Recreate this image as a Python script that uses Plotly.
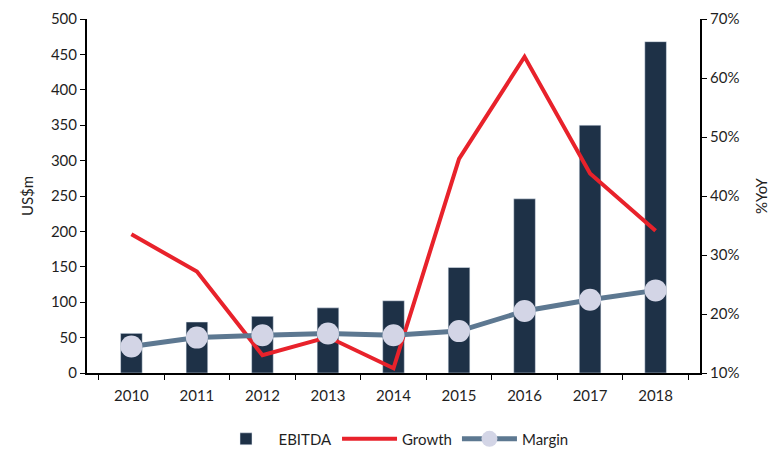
import plotly.graph_objects as go

years = ["2010", "2011", "2012", "2013", "2014", "2015", "2016", "2017", "2018"]
ebitda = [56, 72, 80, 92, 102, 149, 246, 350, 468]
growth = [0.335, 0.272, 0.13, 0.161, 0.108, 0.463, 0.636, 0.438, 0.341]
margin = [0.145, 0.16, 0.164, 0.167, 0.164, 0.171, 0.205, 0.224, 0.24]

left_ticks = list(range(0, 501, 50))
right_ticks = [0.1, 0.2, 0.3, 0.4, 0.5, 0.6, 0.7]

font_family = "Lato, 'Open Sans', sans-serif"
txt = "#1f1f1f"

fig = go.Figure()
fig.add_trace(go.Bar(x=years, y=ebitda, name="EBITDA", marker_color="#1e3147",
                     width=0.33, yaxis="y"))
fig.add_trace(go.Scatter(x=years, y=growth, name="Growth", mode="lines",
                         line=dict(color="#e8222b", width=4), yaxis="y2"))
fig.add_trace(go.Scatter(x=years, y=margin, name="Margin", mode="lines+markers",
                         line=dict(color="#5d7891", width=5),
                         marker=dict(size=22, color="#d3d5e6"), yaxis="y2"))

fig.update_layout(
    width=778, height=461,
    margin=dict(l=87, r=78, t=19, b=88, autoexpand=False),
    paper_bgcolor="white", plot_bgcolor="white",
    font=dict(family=font_family, size=15, color=txt),
    showlegend=True,
    legend=dict(orientation="h", x=0.5, xanchor="center", y=-0.14, yanchor="top",
                font=dict(size=15, color=txt), traceorder="normal", itemwidth=55),
    xaxis=dict(type="category", showline=True, linecolor="black", linewidth=2,
               ticks="outside", tickson="boundaries", ticklen=5, tickcolor="black",
               showgrid=False, tickfont=dict(size=15, color=txt), ticklabelstandoff=8,
               automargin=False),
    yaxis=dict(range=[0, 500], tickvals=left_ticks, showline=True, linecolor="black",
               linewidth=2, ticks="outside", ticklen=5, tickcolor="black",
               showgrid=False, zeroline=False, tickfont=dict(size=15, color=txt),
               automargin=False,
               title=dict(text="US$m", font=dict(size=15, color=txt), standoff=14)),
    yaxis2=dict(range=[0.1, 0.7], tickvals=right_ticks, tickformat=".0%",
                overlaying="y", side="right", showline=True, linecolor="black",
                linewidth=2, ticks="outside", ticklen=5, tickcolor="black",
                showgrid=False, zeroline=False, tickfont=dict(size=15, color=txt),
                automargin=False,
                title=dict(text="%YoY", font=dict(size=15, color=txt), standoff=18)),
    bargap=0.5,
)

fig.write_html("out.html")
